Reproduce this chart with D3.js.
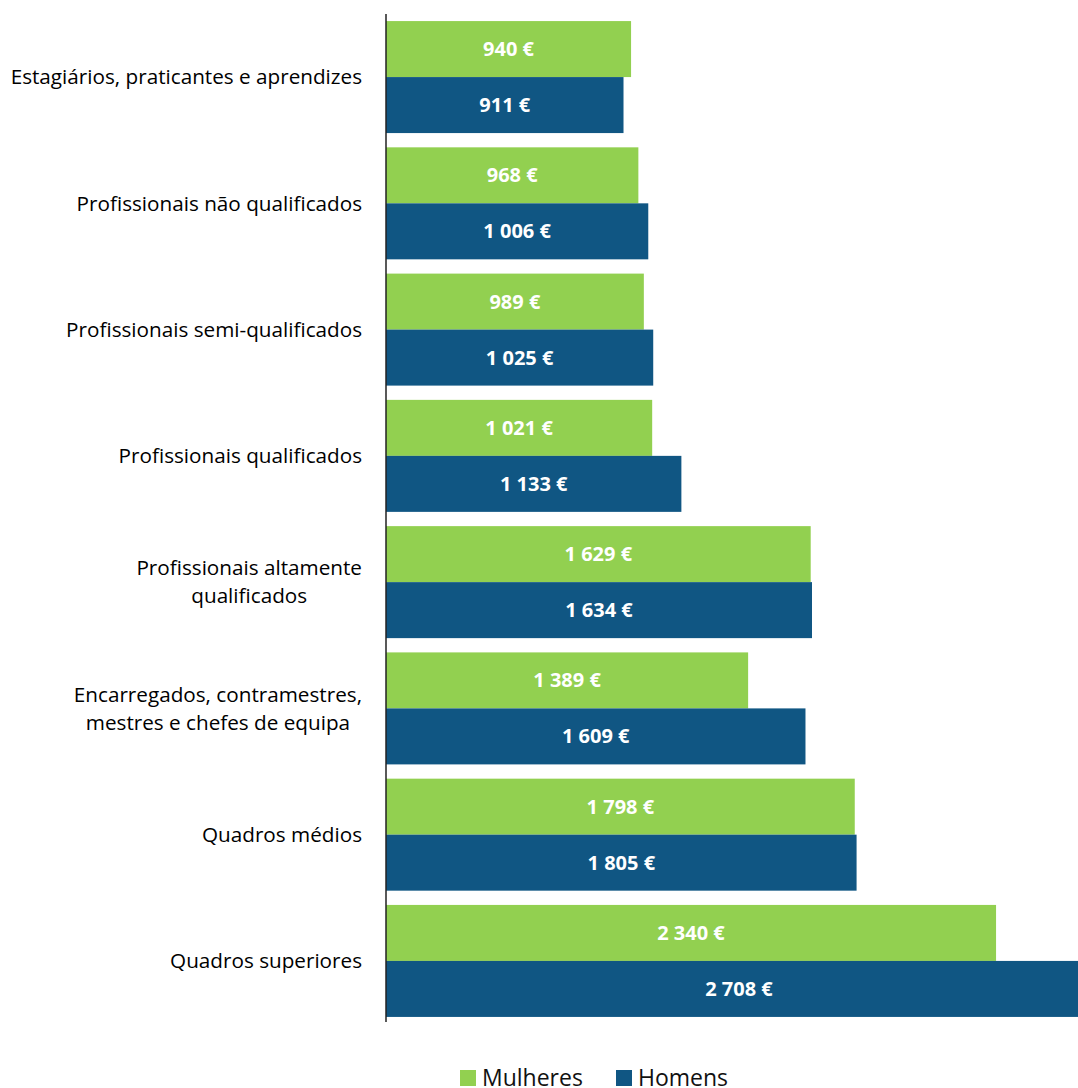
<!DOCTYPE html>
<html>
<head>
<meta charset="utf-8">
<script src="https://cdn.jsdelivr.net/npm/d3@7"></script>
<style>
  body { margin: 0; background: #fff; }
  svg { display: block; }
</style>
</head>
<body>
<svg id="chart" width="1078" height="1088"></svg>
<script>
var categories = [
  ["Estagiários, praticantes e aprendizes"],
  ["Profissionais não qualificados"],
  ["Profissionais semi-qualificados"],
  ["Profissionais qualificados"],
  ["Profissionais altamente", "qualificados"],
  ["Encarregados, contramestres,", "mestres e chefes de equipa"],
  ["Quadros médios"],
  ["Quadros superiores"]
];
var mulheres = [940, 968, 989, 1021, 1629, 1389, 1798, 2340];
var homens = [911, 1006, 1025, 1133, 1634, 1609, 1805, 2708];
var seriesNames = ["Mulheres", "Homens"];
var colors = ["#92d050", "#105683"];

var svg = d3.select("#chart");
var axisX = 386;
var font = "'Open Sans', sans-serif";

var x = d3.scaleLinear().domain([0, 2708]).range([axisX, 1092]);
var y = d3
  .scaleBand()
  .domain(d3.range(categories.length))
  .range([14, 1024])
  .paddingInner(0.113)
  .paddingOuter(0.056);
var sub = d3.scaleBand().domain([0, 1]).range([0, y.bandwidth()]);

function fmt(v) {
  return d3.format(",")(v).replace(",", " ") + " €";
}

var groups = svg
  .selectAll("g.cat")
  .data(categories)
  .enter()
  .append("g")
  .attr("class", "cat")
  .attr("transform", function (d, i) {
    return "translate(0," + y(i) + ")";
  });

[mulheres, homens].forEach(function (vals, s) {
  groups
    .append("rect")
    .attr("x", axisX)
    .attr("y", sub(s))
    .attr("width", function (d, i) {
      return x(vals[i]) - axisX;
    })
    .attr("height", sub.bandwidth())
    .attr("fill", colors[s]);

  groups
    .append("text")
    .attr("x", function (d, i) {
      return (axisX + x(vals[i])) / 2;
    })
    .attr("y", sub(s) + sub.bandwidth() / 2)
    .attr("dy", "0.35em")
    .attr("text-anchor", "middle")
    .attr("fill", "#fff")
    .attr("font-family", font)
    .attr("font-weight", "bold")
    .attr("font-size", "20px")
    .text(function (d, i) {
      return fmt(vals[i]);
    });
});

// category labels
groups
  .append("text")
  .attr("font-family", font)
  .attr("font-size", "20.7px")
  .attr("fill", "#000")
  .each(function (d) {
    var t = d3.select(this);
    var lh = 28;
    var y0 = y.bandwidth() / 2 - ((d.length - 1) * lh) / 2;
    d.forEach(function (line, k) {
      t.append("tspan")
        .attr("x", 362)
        .attr("text-anchor", "end")
        .attr("y", y0 + k * lh)
        .attr("dy", "0.35em")
        .text(line);
    });
    if (d.length > 1) {
      // multi-line labels are centred on the block
      var w = 0;
      t.selectAll("tspan").each(function () {
        w = Math.max(w, this.getComputedTextLength());
      });
      t.selectAll("tspan")
        .attr("text-anchor", "middle")
        .attr("x", 362 - w / 2);
    }
  });

// axis line
svg
  .append("line")
  .attr("x1", axisX)
  .attr("x2", axisX)
  .attr("y1", 14)
  .attr("y2", 1022)
  .attr("stroke", "#222")
  .attr("stroke-width", 1.5);

// legend
var legendX = [460, 616];
seriesNames.forEach(function (name, s) {
  svg
    .append("rect")
    .attr("x", legendX[s])
    .attr("y", 1070)
    .attr("width", 16)
    .attr("height", 16)
    .attr("fill", colors[s]);
  svg
    .append("text")
    .attr("x", legendX[s] + 22)
    .attr("y", 1086)
    .attr("font-family", font)
    .attr("font-size", "23px")
    .attr("fill", "#111")
    .text(name);
});
</script>
</body>
</html>
